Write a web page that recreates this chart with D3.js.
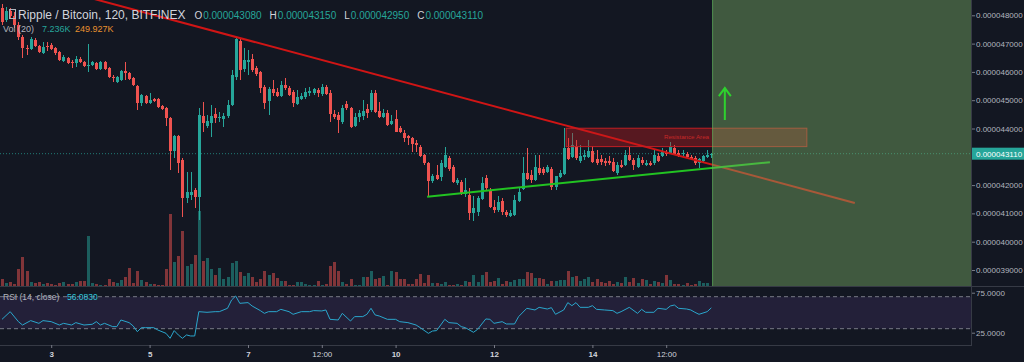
<!DOCTYPE html>
<html><head><meta charset="utf-8">
<script src="https://cdn.jsdelivr.net/npm/d3@7/dist/d3.min.js"></script>
<style>html,body{margin:0;padding:0;background:#131722;overflow:hidden}text{font-family:"Liberation Sans",Arial,sans-serif}</style>
</head><body><svg id="c" width="1024" height="362"></svg>
<script>
// ---------- DATA (prices in units of 1e-8 BTC, volumes in thousands) ----------
const startTime = "2018-10-02T00:00";
const candleHours = 2;
const opens = [4826,4783,4815,4797,4766,4723,4684,4681,4713,4691,4667,4691,4695,4684,4670,4638,4649,4635,4631,4646,4635,4621,4624,4631,4610,4635,4614,4582,4564,4571,4603,4596,4578,4550,4490,4515,4490,4504,4504,4479,4472,4437,4320,4373,4289,4154,4165,4183,4158,4444,4409,4419,4451,4437,4433,4444,4483,4582,4709,4610,4635,4646,4614,4600,4547,4497,4539,4529,4515,4554,4543,4529,4486,4504,4511,4525,4525,4536,4522,4547,4525,4451,4448,4423,4486,4472,4409,4441,4444,4469,4465,4525,4462,4441,4455,4416,4433,4402,4384,4373,4366,4349,4334,4306,4278,4214,4236,4228,4264,4296,4264,4207,4211,4168,4165,4101,4105,4151,4225,4183,4122,4112,4144,4105,4091,4094,4144,4186,4243,4236,4218,4260,4257,4246,4257,4193,4228,4239,4331,4299,4338,4285,4299,4299,4320,4292,4292,4285,4285,4281,4243,4271,4271,4306,4289,4264,4289,4271,4278,4278,4303,4303,4317,4313,4331,4313,4310,4310,4299,4296,4278,4285,4299,4308];
const highs = [4840,4829,4826,4812,4776,4730,4695,4723,4720,4695,4706,4706,4702,4688,4674,4660,4653,4642,4656,4653,4638,4698,4638,4635,4638,4638,4617,4589,4585,4607,4635,4600,4582,4554,4522,4518,4525,4508,4508,4483,4476,4441,4377,4377,4296,4246,4246,4190,4472,4494,4448,4483,4472,4458,4455,4501,4607,4723,4720,4684,4677,4663,4621,4603,4554,4547,4571,4543,4568,4578,4550,4536,4536,4525,4543,4547,4543,4543,4557,4554,4536,4465,4458,4483,4497,4476,4455,4465,4501,4486,4536,4536,4494,4469,4465,4448,4465,4409,4395,4377,4370,4359,4342,4310,4281,4239,4271,4289,4334,4303,4271,4225,4218,4225,4190,4161,4161,4228,4236,4190,4147,4161,4154,4112,4112,4165,4190,4299,4331,4253,4306,4306,4264,4271,4264,4232,4253,4402,4366,4384,4359,4342,4324,4359,4338,4324,4306,4296,4303,4296,4281,4289,4324,4334,4296,4306,4299,4289,4285,4324,4313,4331,4324,4352,4342,4324,4324,4317,4306,4303,4296,4306,4324,4315];
const lows = [4766,4776,4790,4755,4713,4649,4660,4677,4688,4667,4663,4674,4677,4660,4638,4635,4628,4614,4617,4631,4617,4600,4621,4607,4607,4607,4578,4564,4561,4568,4571,4571,4550,4465,4479,4486,4486,4494,4472,4465,4409,4253,4296,4243,4087,4137,4147,4119,4076,4387,4402,4370,4419,4423,4405,4437,4479,4571,4571,4600,4589,4600,4585,4525,4469,4448,4515,4511,4511,4536,4515,4476,4483,4501,4504,4515,4518,4511,4515,4518,4423,4433,4384,4416,4465,4402,4405,4423,4430,4437,4458,4455,4437,4437,4409,4412,4387,4384,4352,4342,4317,4317,4299,4271,4158,4207,4218,4214,4260,4250,4207,4200,4165,4158,4076,4073,4091,4147,4183,4119,4101,4105,4094,4087,4087,4091,4140,4183,4218,4207,4214,4236,4236,4243,4183,4183,4225,4236,4289,4296,4289,4278,4289,4296,4278,4271,4271,4267,4271,4246,4236,4260,4267,4285,4253,4260,4271,4267,4267,4271,4281,4299,4303,4310,4306,4299,4303,4296,4289,4271,4260,4281,4296,4295];
const closes = [4776,4815,4797,4766,4723,4684,4681,4716,4691,4670,4688,4688,4681,4667,4642,4653,4631,4631,4646,4635,4621,4624,4635,4610,4635,4610,4582,4578,4582,4603,4596,4575,4554,4490,4518,4490,4501,4497,4476,4469,4437,4320,4373,4278,4154,4175,4175,4158,4448,4419,4426,4444,4437,4441,4444,4483,4589,4716,4607,4642,4642,4607,4592,4543,4490,4539,4525,4515,4554,4543,4518,4490,4511,4515,4529,4532,4539,4525,4547,4522,4451,4441,4430,4472,4472,4405,4441,4455,4462,4455,4525,4458,4441,4455,4412,4426,4387,4387,4366,4366,4345,4342,4303,4278,4214,4232,4221,4278,4306,4257,4211,4218,4172,4183,4101,4119,4154,4207,4190,4122,4112,4140,4105,4094,4101,4147,4175,4243,4221,4218,4264,4243,4243,4264,4193,4232,4243,4331,4292,4342,4296,4303,4306,4320,4281,4278,4281,4278,4278,4250,4271,4264,4306,4289,4271,4296,4278,4278,4271,4306,4285,4317,4310,4334,4310,4303,4313,4299,4292,4278,4292,4303,4306,4311];
const volumes = [168,83,108,50,418,718,383,108,68,108,50,68,43,25,68,108,43,43,108,133,118,1250,68,43,25,18,168,93,68,150,233,443,68,383,150,93,43,43,25,25,418,1800,608,750,1375,500,550,775,1875,633,693,418,275,443,168,218,568,625,358,250,318,218,108,168,375,275,333,193,125,125,25,25,100,100,43,25,25,133,18,43,500,600,383,100,50,183,18,18,225,225,375,183,200,243,18,383,350,183,168,58,58,168,300,68,275,68,68,50,100,18,25,50,25,133,108,275,108,275,350,100,133,193,43,133,108,150,183,168,350,325,193,193,183,50,118,133,150,150,368,218,250,133,168,218,100,168,108,83,133,50,100,83,218,100,208,68,168,150,50,133,108,68,268,150,43,43,18,68,25,50,133,68,83,7.236];
const volumeMA = 249.927;
const rsiPoints = [[0,41.7],[2,51.3],[4,38.8],[5,34.6],[7,40.1],[9,36.7],[10,40.1],[12,38.8],[14,34.6],[15,36.7],[17,34.6],[18,37.6],[20,34.6],[22,35.5],[23,38.8],[24,34.6],[25,36.7],[27,32.6],[28,32.6],[29,40.9],[31,37.6],[32,33.4],[33,26.3],[34,31.3],[35,31.3],[37,31.3],[38,28.4],[40,24.2],[41,18.0],[42,27.6],[43,22.2],[44,18.0],[45,22.2],[46,20.9],[47,20.9],[48,51.3],[50,50.5],[52,51.3],[53,51.3],[55,55.5],[56,65.9],[57,70.9],[58,61.7],[60,62.6],[61,58.4],[63,52.6],[64,49.2],[65,51.3],[67,51.3],[68,54.2],[70,51.3],[71,48.0],[73,51.3],[75,51.3],[76,52.6],[78,52.2],[79,53.4],[80,41.7],[82,40.9],[83,49.2],[85,39.6],[86,45.1],[88,45.1],[89,48.0],[90,55.5],[91,47.2],[92,45.9],[94,41.7],[96,41.7],[97,38.8],[99,37.6],[101,34.6],[102,31.3],[104,24.2],[105,27.1],[106,27.6],[108,41.7],[109,37.6],[111,36.7],[112,32.6],[113,31.3],[115,25.5],[116,29.2],[118,42.2],[119,41.7],[120,36.7],[122,38.8],[123,35.9],[125,35.9],[126,45.1],[128,55.5],[130,53.4],[131,56.7],[133,54.6],[134,56.3],[135,48.0],[137,53.4],[138,62.6],[139,58.8],[140,62.6],[141,56.7],[143,56.7],[144,58.8],[145,54.2],[147,53.4],[149,52.6],[150,49.2],[151,51.3],[153,56.7],[155,49.2],[156,54.2],[157,50.5],[159,50.5],[160,55.5],[162,54.2],[163,58.4],[164,59.6],[165,55.5],[167,54.6],[168,53.4],[169,50.5],[170,48.0],[172,51.3],[173,56.083]];
const rsiLast = 56.083;
const rsiBands = [30, 70];
const rsiTicks = [25, 75];
const priceTicks = [3900,4000,4100,4200,4300,4400,4500,4600,4700,4800];
const timeTicks = ["2018-10-03T00:00","2018-10-05T00:00","2018-10-07T00:00","2018-10-08T12:00","2018-10-10T00:00","2018-10-12T00:00","2018-10-14T00:00","2018-10-15T12:00"];
const titleText = "Ripple / Bitcoin, 120, BITFINEX";
const ohlcLabels = ["O","H","L","C"];
const ohlcValues = [4308, 4315, 4295, 4311];
// drawings (time, price)
const redTrend = [["2018-10-02T00:00",4945],["2018-10-19T08:00",4137]];
const greenSupport = [["2018-10-10T15:24",4159],["2018-10-17T14:36",4281]];
const resistanceZone = [["2018-10-13T11:12",4401],["2018-10-18T08:36",4336]];
const resistanceLabel = "Resistance Area";
const targetZoneStart = "2018-10-16T10:24";
const upArrow = [["2018-10-16T16:36",4430],["2018-10-16T16:36",4543]];

// ---------- LAYOUT ----------
const W=1024, axisX=972, mainBottom=286, rsiTop=287, rsiBottom=345;
const UP="#26a69a", DOWN="#ef5350";
const svg=d3.select("#c");
const parse=d3.timeParse("%Y-%m-%dT%H:%M");
const t0=parse(startTime);
const times=closes.map((_,i)=>d3.timeHour.offset(t0,candleHours*i));
const step=4.1;
const x=d3.scaleTime().domain([t0,times[times.length-1]]).range([2,2+step*(closes.length-1)]);
const y=d3.scaleLinear().domain([3900,4800]).range([270,15.3]);
const yVol=d3.scaleLinear().domain([0,2000]).range([mainBottom,mainBottom-80]);
const yRsi=d3.scaleLinear().domain([25,75]).range([332.7,292.7]);
const fmtPrice=v=>(v*1e-8).toFixed(9);
const lastClose=closes[closes.length-1];

svg.append("rect").attr("width",W).attr("height",362).attr("fill","#131722");
const defs=svg.append("defs");
defs.append("clipPath").attr("id","cm").append("rect").attr("x",0).attr("y",0).attr("width",axisX).attr("height",mainBottom);
defs.append("clipPath").attr("id","cr").append("rect").attr("x",0).attr("y",rsiTop).attr("width",axisX).attr("height",rsiBottom-rsiTop);

const main=svg.append("g").attr("clip-path","url(#cm)");
// volume
main.append("g").selectAll("rect").data(volumes).join("rect")
  .attr("x",(d,i)=>Math.round(x(times[i]))-1).attr("width",3)
  .attr("y",d=>yVol(d)).attr("height",d=>mainBottom-yVol(d))
  .attr("fill",(d,i)=>closes[i]>=opens[i]?"rgba(38,166,154,0.5)":"rgba(239,83,80,0.5)")
  .attr("shape-rendering","crispEdges");
// last price line
main.append("line").attr("x1",0).attr("x2",axisX).attr("y1",y(lastClose)).attr("y2",y(lastClose))
  .attr("stroke",UP).attr("stroke-opacity",0.7).attr("stroke-dasharray","1,2");
// candles
const cg=main.append("g").attr("shape-rendering","crispEdges");
cg.selectAll("line").data(closes).join("line")
  .attr("x1",(d,i)=>Math.round(x(times[i]))+0.5).attr("x2",(d,i)=>Math.round(x(times[i]))+0.5)
  .attr("y1",(d,i)=>y(highs[i])).attr("y2",(d,i)=>y(lows[i]))
  .attr("stroke",(d,i)=>d>=opens[i]?UP:DOWN);
cg.selectAll("rect").data(closes).join("rect")
  .attr("x",(d,i)=>Math.round(x(times[i]))-1).attr("width",3)
  .attr("y",(d,i)=>Math.min(y(d),y(opens[i])))
  .attr("height",(d,i)=>Math.max(1,Math.abs(y(d)-y(opens[i]))))
  .attr("fill",(d,i)=>d>=opens[i]?UP:DOWN);
// drawings
const pt=p=>[x(parse(p[0])),y(p[1])];
main.append("line").attr("x1",pt(redTrend[0])[0]).attr("y1",pt(redTrend[0])[1])
  .attr("x2",pt(redTrend[1])[0]).attr("y2",pt(redTrend[1])[1]).attr("stroke","#d01515").attr("stroke-width",2);
main.append("line").attr("x1",pt(greenSupport[0])[0]).attr("y1",pt(greenSupport[0])[1])
  .attr("x2",pt(greenSupport[1])[0]).attr("y2",pt(greenSupport[1])[1]).attr("stroke","#22c322").attr("stroke-width",2);
const r0=pt(resistanceZone[0]), r1=pt(resistanceZone[1]);
main.append("rect").attr("x",r0[0]).attr("y",r0[1]).attr("width",r1[0]-r0[0]).attr("height",r1[1]-r0[1])
  .attr("fill","rgba(200,25,30,0.38)").attr("stroke","#c21f24").attr("stroke-width",1);
main.append("text").attr("x",(r0[0]+r1[0])/2).attr("y",(r0[1]+r1[1])/2+2).attr("text-anchor","middle")
  .attr("font-size",6.2).attr("fill","#c62828").text(resistanceLabel);
const gx=x(parse(targetZoneStart));
main.append("rect").attr("x",gx).attr("y",0).attr("width",axisX-gx).attr("height",mainBottom)
  .attr("fill","rgba(120,170,100,0.45)");
main.append("line").attr("x1",gx+0.5).attr("x2",gx+0.5).attr("y1",0).attr("y2",mainBottom).attr("stroke","rgba(90,180,90,0.6)");
const a0=pt(upArrow[0]), a1=pt(upArrow[1]);
main.append("path").attr("d",`M${a0[0]},${a0[1]}L${a1[0]},${a1[1]}M${a1[0]-6},${a1[1]+8}L${a1[0]},${a1[1]}L${a1[0]+6},${a1[1]+8}`)
  .attr("fill","none").attr("stroke","#2ed12e").attr("stroke-width",2);

// RSI pane
const rg=svg.append("g").attr("clip-path","url(#cr)");
rg.append("rect").attr("x",0).attr("width",axisX).attr("y",yRsi(rsiBands[1])).attr("height",yRsi(rsiBands[0])-yRsi(rsiBands[1]))
  .attr("fill","rgba(126,87,194,0.15)");
rg.selectAll("line.b").data(rsiBands).join("line").attr("class","b").attr("x1",0).attr("x2",axisX)
  .attr("y1",d=>yRsi(d)).attr("y2",d=>yRsi(d)).attr("stroke","#787b86").attr("stroke-dasharray","4,3");
rg.append("path").datum(rsiPoints).attr("fill","none").attr("stroke","#2aa6cc").attr("stroke-width",1)
  .attr("d",d3.line().x(d=>x(times[0])+(x(times[1])-x(times[0]))*d[0]).y(d=>yRsi(d[1])));

// separators
svg.append("line").attr("x1",0).attr("x2",W).attr("y1",mainBottom+0.5).attr("y2",mainBottom+0.5).attr("stroke","#363a45");
svg.append("line").attr("x1",axisX-0.5).attr("x2",axisX-0.5).attr("y1",0).attr("y2",rsiBottom).attr("stroke","#363a45");
svg.append("line").attr("x1",0).attr("x2",axisX).attr("y1",rsiBottom+0.5).attr("y2",rsiBottom+0.5).attr("stroke","#363a45");

// price axis (a tick label that sits under the last-price badge is hidden, as in the reference)
const pa=svg.append("g").attr("transform",`translate(${axisX},0)`)
  .call(d3.axisRight(y).tickValues(priceTicks).tickSize(3).tickPadding(1).tickFormat(fmtPrice));
pa.selectAll(".tick").filter(d=>Math.abs(y(d)-y(lastClose))<10).select("text").remove();
const ra=svg.append("g").attr("transform",`translate(${axisX},0)`)
  .call(d3.axisRight(yRsi).tickValues(rsiTicks).tickSize(3).tickPadding(1).tickFormat(d=>d.toFixed(4)));
const ta=svg.append("g").attr("transform",`translate(0,${rsiBottom})`)
  .call(d3.axisBottom(x).tickValues(timeTicks.map(parse)).tickSize(3).tickPadding(3)
  .tickFormat(d=>d.getHours()===12?"12:00":String(d.getDate())));
[pa,ra,ta].forEach(g=>{g.select(".domain").remove();
  g.selectAll("line").attr("stroke","#787b86");
  g.selectAll("text").attr("fill","#b2b5be").attr("font-size",8).attr("font-family","Liberation Sans, Arial");});
ta.selectAll("text").attr("font-weight",d=>d.getHours()===12?"normal":"bold").attr("fill","#d1d4dc");
// last price label
svg.append("rect").attr("x",axisX).attr("y",y(lastClose)-6).attr("width",W-axisX).attr("height",12).attr("fill",UP);
svg.append("text").attr("x",axisX+4).attr("y",y(lastClose)+3).attr("font-size",8).attr("fill","#ffffff").text(fmtPrice(lastClose));

// legends
svg.append("rect").attr("x",9.5).attr("y",9.5).attr("width",6).attr("height",9).attr("fill","none").attr("stroke","#b2b5be");
const title=svg.append("text").attr("x",18).attr("y",19).attr("font-size",12).attr("fill","#d1d4dc").text(titleText);
let lx=18+title.node().getComputedTextLength()+9;
ohlcLabels.forEach((l,i)=>{
  const a=svg.append("text").attr("x",lx).attr("y",19).attr("font-size",10).attr("fill","#d1d4dc").text(l);
  lx+=a.node().getComputedTextLength()+1;
  const b=svg.append("text").attr("x",lx).attr("y",19).attr("font-size",10).attr("fill",UP).text(fmtPrice(ohlcValues[i]));
  lx+=b.node().getComputedTextLength()+8;
});
svg.append("text").attr("x",3).attr("y",32).attr("font-size",9).attr("fill","#b2b5be").text("Vol (20)");
svg.append("text").attr("x",42).attr("y",32).attr("font-size",9).attr("fill",UP).text(volumes[volumes.length-1].toFixed(3)+"K");
svg.append("text").attr("x",75).attr("y",32).attr("font-size",9).attr("fill","#e8912f").text(volumeMA.toFixed(3)+"K");
svg.append("text").attr("x",3).attr("y",300).attr("font-size",8.5).attr("fill","#b2b5be").text("RSI (14, close)");
svg.append("text").attr("x",67).attr("y",300).attr("font-size",8.5).attr("fill","#2ec4d8").text(rsiLast.toFixed(4));
</script></body></html>
